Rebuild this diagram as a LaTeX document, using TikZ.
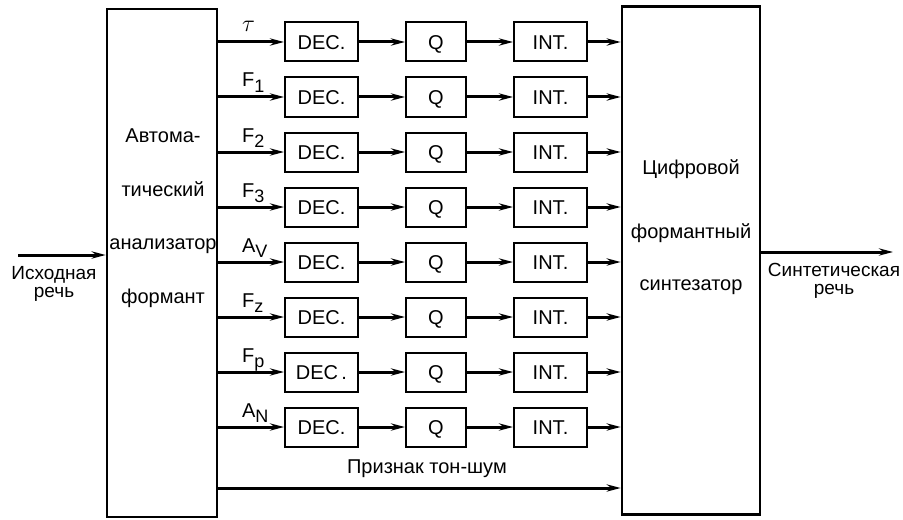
\documentclass[tikz,border=0pt]{standalone}
\usepackage{fontspec}
\setmainfont{Liberation Sans}
\usetikzlibrary{positioning, arrows.meta}

\newcommand{\chan}[2]{#1\raisebox{-2.5pt}{\fontsize{9}{9}\selectfont #2}}

\begin{document}
\begin{tikzpicture}[
    x=0.5pt, y=-0.5pt,
    node distance=7pt and 23pt,
    every node/.style={font=\fontsize{10}{12}\selectfont},
    unit/.style={draw, line width=1.3pt, minimum width=#1, minimum height=254pt, inner sep=0pt},
    blk/.style={draw, line width=1pt, minimum width=#1, minimum height=19.5pt, inner sep=0pt,
      text height=7.2pt, text depth=0pt},
    arrow/.style={-{Stealth[length=7pt, width=3.6pt]}, line width=1.5pt},
    sig/.style={inner sep=0pt, anchor=base west, yshift=5pt, pos=0.34},
    iolbl/.style={align=center, inner sep=0pt, font=\fontsize{9.5}{9}\selectfont},
  ]
  \useasboundingbox (0,0) rectangle (903,519);

  % ---- analyser and synthesiser ----
  \node[unit=55pt] (ana) at (162,263) {};
  \node[align=center, inner sep=0pt, font=\fontsize{10}{26.75}\selectfont] (anatxt) at (163,218)
    {Автома-\\тический\\анализатор\\формант};
  \node[unit=69pt] (syn) at (691,260.5) {};
  \node[align=center, inner sep=0pt, font=\fontsize{10}{26}\selectfont] (syntxt) at (691,227)
    {Цифровой\\[6pt]формантный\\синтезатор};

  % ---- parameter channels ----
  \node[blk=36.5pt] (dec1) at (321.5,42) {DEC.};
  \node[blk=30pt, right=of dec1] (q1) {Q};
  \node[blk=36.5pt, right=of q1] (int1) {INT.};

  \node[blk=36.5pt, below=of dec1] (dec2) {DEC.};
  \node[blk=30pt, right=of dec2] (q2) {Q};
  \node[blk=36.5pt, right=of q2] (int2) {INT.};

  \node[blk=36.5pt, below=of dec2] (dec3) {DEC.};
  \node[blk=30pt, right=of dec3] (q3) {Q};
  \node[blk=36.5pt, right=of q3] (int3) {INT.};

  \node[blk=36.5pt, below=of dec3] (dec4) {DEC.};
  \node[blk=30pt, right=of dec4] (q4) {Q};
  \node[blk=36.5pt, right=of q4] (int4) {INT.};

  \node[blk=36.5pt, below=of dec4] (dec5) {DEC.};
  \node[blk=30pt, right=of dec5] (q5) {Q};
  \node[blk=36.5pt, right=of q5] (int5) {INT.};

  \node[blk=36.5pt, below=of dec5] (dec6) {DEC.};
  \node[blk=30pt, right=of dec6] (q6) {Q};
  \node[blk=36.5pt, right=of q6] (int6) {INT.};

  \node[blk=36.5pt, below=of dec6] (dec7) {DEC\,.};
  \node[blk=30pt, right=of dec7] (q7) {Q};
  \node[blk=36.5pt, right=of q7] (int7) {INT.};

  \node[blk=36.5pt, below=of dec7] (dec8) {DEC.};
  \node[blk=30pt, right=of dec8] (q8) {Q};
  \node[blk=36.5pt, right=of q8] (int8) {INT.};

  % ---- channel arrows ----
  \draw[arrow] (ana.east |- dec1) -- node[sig] (s1) {\fontsize{13}{13}\selectfont$\tau$} (dec1);
  \draw[arrow] (ana.east |- dec2) -- node[sig] (s2) {\chan{F}{1}} (dec2);
  \draw[arrow] (ana.east |- dec3) -- node[sig] (s3) {\chan{F}{2}} (dec3);
  \draw[arrow] (ana.east |- dec4) -- node[sig] (s4) {\chan{F}{3}} (dec4);
  \draw[arrow] (ana.east |- dec5) -- node[sig] (s5) {\chan{A}{V}} (dec5);
  \draw[arrow] (ana.east |- dec6) -- node[sig] (s6) {\chan{F}{z}} (dec6);
  \draw[arrow] (ana.east |- dec7) -- node[sig] (s7) {\chan{F}{p}} (dec7);
  \draw[arrow] (ana.east |- dec8) -- node[sig] (s8) {\chan{A}{N}} (dec8);

  \draw[arrow] (dec1) -- (q1); \draw[arrow] (q1) -- (int1); \draw[arrow] (int1) -- (syn.west |- int1);
  \draw[arrow] (dec2) -- (q2); \draw[arrow] (q2) -- (int2); \draw[arrow] (int2) -- (syn.west |- int2);
  \draw[arrow] (dec3) -- (q3); \draw[arrow] (q3) -- (int3); \draw[arrow] (int3) -- (syn.west |- int3);
  \draw[arrow] (dec4) -- (q4); \draw[arrow] (q4) -- (int4); \draw[arrow] (int4) -- (syn.west |- int4);
  \draw[arrow] (dec5) -- (q5); \draw[arrow] (q5) -- (int5); \draw[arrow] (int5) -- (syn.west |- int5);
  \draw[arrow] (dec6) -- (q6); \draw[arrow] (q6) -- (int6); \draw[arrow] (int6) -- (syn.west |- int6);
  \draw[arrow] (dec7) -- (q7); \draw[arrow] (q7) -- (int7); \draw[arrow] (int7) -- (syn.west |- int7);
  \draw[arrow] (dec8) -- (q8); \draw[arrow] (q8) -- (int8); \draw[arrow] (int8) -- (syn.west |- int8);

  % ---- voiced/unvoiced flag ----
  \coordinate (tn) at (217,488);
  \draw[arrow] (tn) -- node[pos=0.52, anchor=base, yshift=7.5pt, inner sep=0pt] (tnl) {Признак тон-шум} (syn.west |- tn);

  % ---- input and output ----
  \coordinate (src) at (18,255);
  \draw[arrow] (src) -- (ana.west |- src);
  \node[iolbl] (srcl) at (54,284) {Исходная\\речь};

  \coordinate (dst) at (893,252);
  \draw[arrow] (syn.east |- dst) -- (dst);
  \node[iolbl] (dstl) at (834,281) {Синтетическая\\речь};

\end{tikzpicture}
\end{document}
